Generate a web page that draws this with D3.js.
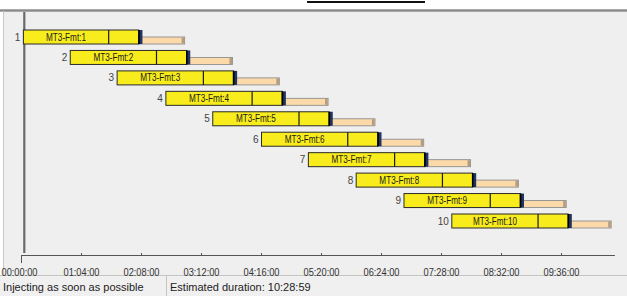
<!DOCTYPE html>
<html><head><meta charset="utf-8">
<script src="https://cdn.jsdelivr.net/npm/d3@7"></script>
<style>
html,body{margin:0;padding:0;background:#fff;}
svg{display:block;font-family:"Liberation Sans",Arial,sans-serif;}
</style></head>
<body>
<svg id="c" width="627" height="296"></svg>
<script>
// ---- data (minutes) ----
const rows = ["1","2","3","4","5","6","7","8","9","10"];
const jobLabels = ["MT3-Fmt:1","MT3-Fmt:2","MT3-Fmt:3","MT3-Fmt:4","MT3-Fmt:5","MT3-Fmt:6","MT3-Fmt:7","MT3-Fmt:8","MT3-Fmt:9","MT3-Fmt:10"];
const startMin = [2, 52, 102, 154, 204, 256, 306, 357, 408, 459];
const phaseA   = [91, 92, 92, 92, 92, 92, 92, 92, 92, 92];
const phaseB   = [32, 32, 32, 32, 32, 32, 32, 32, 32, 32];
const marker   = [4, 4, 4, 4, 4, 4, 4, 4, 4, 4];
const tail     = [45, 45, 45, 45, 45, 45, 45, 45, 45, 42];
const tickMin  = [0, 64, 128, 192, 256, 320, 384, 448, 512, 576];
const tickLabels = ["00:00:00","01:04:00","02:08:00","03:12:00","04:16:00","05:20:00","06:24:00","07:28:00","08:32:00","09:36:00"];
const axisEndMin = 633;
const statusLeft = "Injecting as soon as possible";
const statusRight = "Estimated duration: 10:28:59";

const data = rows.map((r,i)=>({row:r, label:jobLabels[i], s:startMin[i],
  a:startMin[i]+phaseA[i], b:startMin[i]+phaseA[i]+phaseB[i],
  m:startMin[i]+phaseA[i]+phaseB[i]+marker[i],
  t:startMin[i]+phaseA[i]+phaseB[i]+marker[i]+tail[i]}));

const svg = d3.select("#c");
const x = d3.scaleLinear().domain([0, 640]).range([21.5, 21.5 + 640*0.9375]);
const y = d3.scaleBand().domain(rows).range([30, 228]).paddingInner(0.315).paddingOuter(0);
const bh = y.bandwidth();

// background panel
svg.append("rect").attr("x",0).attr("y",0).attr("width",627).attr("height",296).attr("fill","#fff");
svg.append("rect").attr("x",3).attr("y",10).attr("width",624).attr("height",266).attr("fill","#efefef");
svg.append("line").attr("x1",0).attr("x2",627).attr("y1",10.5).attr("y2",10.5).attr("stroke","#8c8c8c").attr("stroke-width",2.5);
svg.append("line").attr("x1",3.5).attr("x2",3.5).attr("y1",11).attr("y2",276).attr("stroke","#c8c8c8").attr("stroke-width",1);
// top black fragment
svg.append("line").attr("x1",307).attr("x2",425).attr("y1",2).attr("y2",2).attr("stroke","#111").attr("stroke-width",2);

// status bar
svg.append("rect").attr("x",0).attr("y",276).attr("width",627).attr("height",20).attr("fill","#f0f0f0");
svg.append("line").attr("x1",0).attr("x2",627).attr("y1",275.5).attr("y2",275.5).attr("stroke","#c4c4c4");
svg.append("line").attr("x1",166.5).attr("x2",166.5).attr("y1",276).attr("y2",296).attr("stroke","#c4c4c4");
svg.append("text").attr("x",3).attr("y",291).attr("font-size",11).attr("fill","#222").text(statusLeft);
svg.append("text").attr("x",170).attr("y",291).attr("font-size",11).attr("fill","#222").text(statusRight);

// time-zero vertical line
svg.append("line").attr("x1",x(0)+2.8).attr("x2",x(0)+2.8).attr("y1",12).attr("y2",253)
  .attr("stroke","#6a6a6a").attr("stroke-width",2.2);

// axis
const axisG = svg.append("g");
axisG.append("line").attr("x1",x(0)).attr("x2",x(axisEndMin)).attr("y1",255.5).attr("y2",255.5).attr("stroke","#555").attr("stroke-width",1.2);
axisG.selectAll(".tk").data(tickMin).join("line")
  .attr("x1",d=>x(d)).attr("x2",d=>x(d))
  .attr("y1",(d,i)=> i===0 ? 255 : 253).attr("y2",(d,i)=> i===0 ? 263 : 256)
  .attr("stroke","#555").attr("stroke-width",1);
axisG.selectAll(".tl").data(tickMin).join("text")
  .attr("x",(d,i)=> i===0 ? x(d)-2 : x(d)).attr("y",276)
  .attr("text-anchor","middle").attr("font-size",10).attr("fill","#333")
  .attr("textLength",36).attr("lengthAdjust","spacingAndGlyphs")
  .text((d,i)=>tickLabels[i]);

// bars
const g = svg.append("g").selectAll("g").data(data).join("g");
g.append("rect").attr("x",d=>x(d.b)).attr("y",d=>y(d.row)+7).attr("width",d=>x(d.t)-x(d.b)).attr("height",bh-7)
  .attr("fill","#fcd9a8").attr("stroke","#8e8e8e").attr("stroke-width",0.9);
g.append("rect").attr("x",d=>x(d.t)-3).attr("y",d=>y(d.row)+7.5).attr("width",2.6).attr("height",bh-8)
  .attr("fill","#b59c80");
g.append("rect").attr("x",d=>x(d.s)).attr("y",d=>y(d.row)).attr("width",d=>x(d.b)-x(d.s)).attr("height",bh)
  .attr("fill","#f8ec1c").attr("stroke","#2a2a2a").attr("stroke-width",1);
g.append("line").attr("x1",d=>x(d.a)).attr("x2",d=>x(d.a)).attr("y1",d=>y(d.row)).attr("y2",d=>y(d.row)+bh)
  .attr("stroke","#1a1a1a").attr("stroke-width",1.2);
g.append("rect").attr("x",d=>x(d.b)).attr("y",d=>y(d.row)).attr("width",d=>x(d.m)-x(d.b)).attr("height",bh)
  .attr("fill","#22345e");
g.append("rect").attr("x",d=>x(d.b)-0.5).attr("y",d=>y(d.row)).attr("width",1.6).attr("height",bh)
  .attr("fill","#000");
g.append("text").attr("x",d=>(x(d.s)+x(d.a))/2).attr("y",d=>y(d.row)+bh/2+3.6)
  .attr("text-anchor","middle").attr("font-size",10).attr("fill","#1a1a1a")
  .attr("textLength",d=>d.label.length>9?44:40).attr("lengthAdjust","spacingAndGlyphs")
  .text(d=>d.label);
g.append("text").attr("x",d=>x(d.s)-3).attr("y",d=>y(d.row)+bh/2+3.6)
  .attr("text-anchor","end").attr("font-size",10).attr("fill","#444").text(d=>d.row);
</script>
</body></html>
